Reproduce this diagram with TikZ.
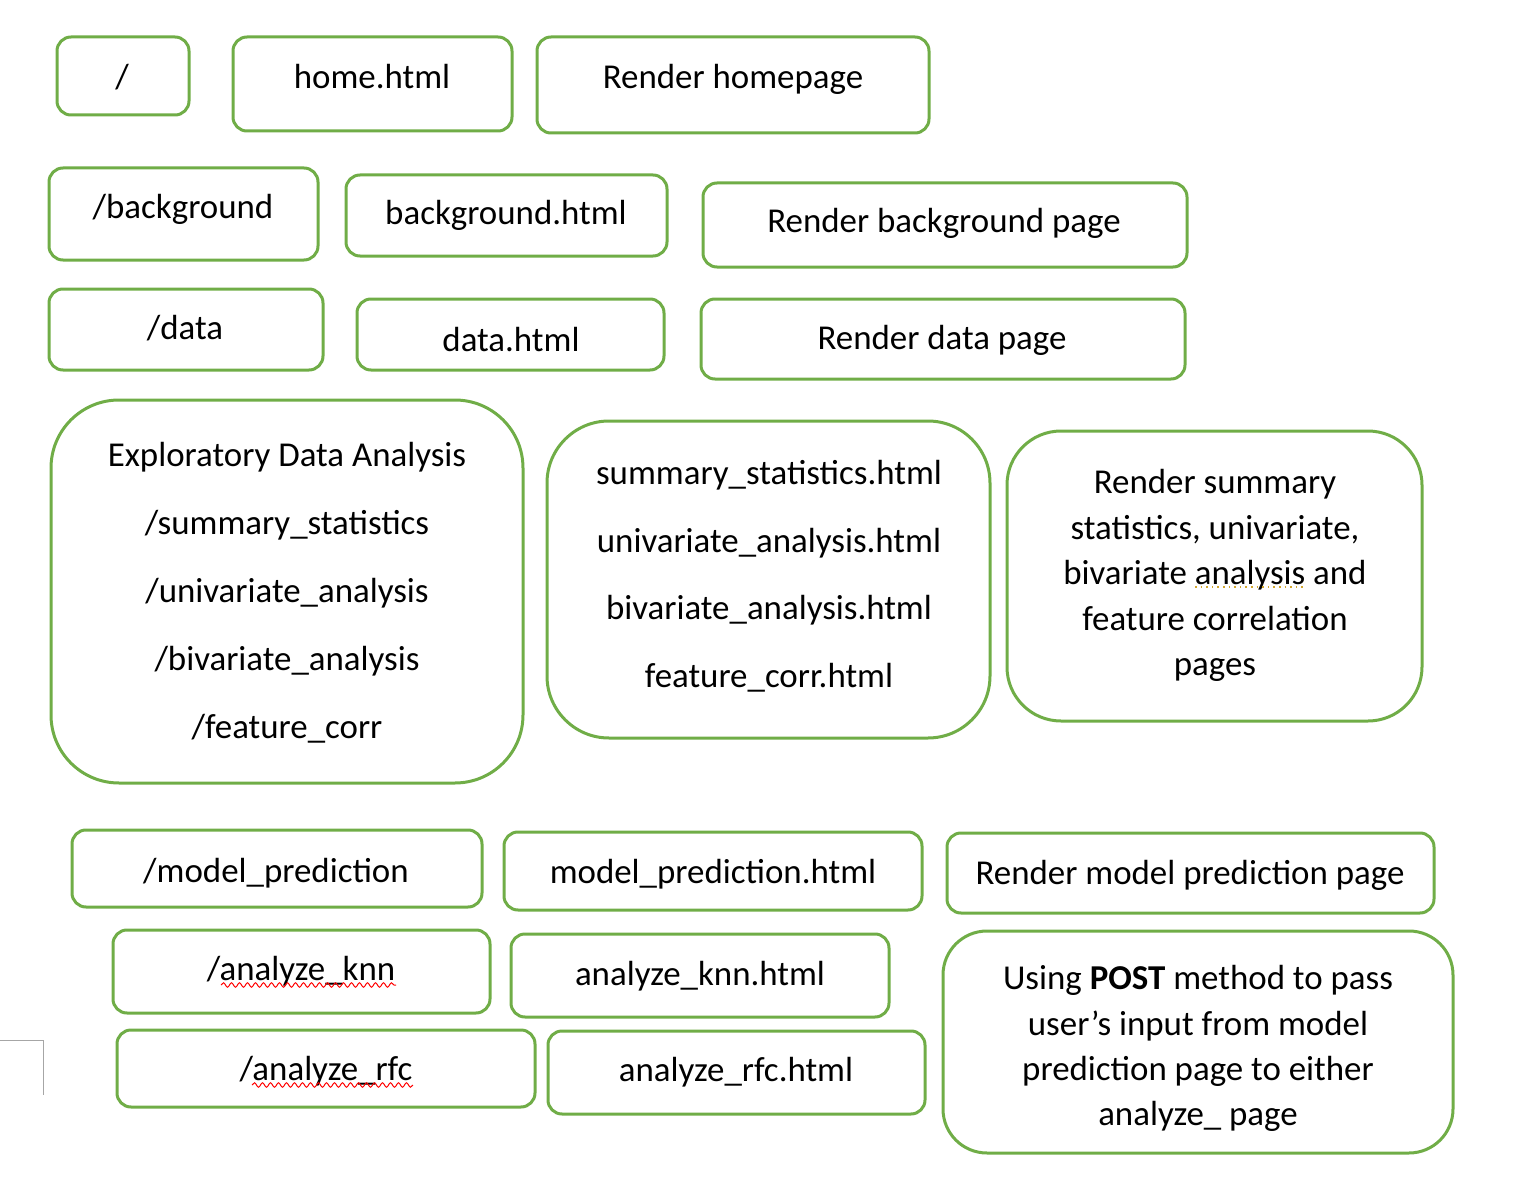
\documentclass[tikz,border=0pt]{standalone}
\usepackage{fontspec}
\setmainfont{Carlito}
\usetikzlibrary{decorations.pathmorphing}

\definecolor{boxgreen}{HTML}{70AD47}
\definecolor{markgray}{HTML}{A6A6A6}

\tikzset{
  box/.style={draw=boxgreen, line width=1.5pt, rounded corners=7pt},
  lbl/.style={anchor=base, inner sep=0pt, font=\fontsize{17.45}{21}\selectfont},
  squiggle/.style={draw=red, line width=0.5pt, decorate,
    decoration={snake, amplitude=1.1pt, segment length=4pt}},
  dotline/.style={draw=brown!70!yellow, line width=0.8pt, dotted}
}

\begin{document}
\begin{tikzpicture}[x=0.5pt, y=-0.5pt]
            \useasboundingbox (0,0) rectangle (1517,1177);

            % page corner mark
            \draw[markgray, line width=0.5pt] (0,1040) -- (43,1040) -- (43,1095);

            % route / template / action, first three rows
            \draw[box] (57,37) rectangle (189,115);
            \draw[box] (233,37) rectangle (512,131);
            \draw[box] (537,37) rectangle (929,133);

            \draw[box] (49,168) rectangle (318,260);
            \draw[box] (346,175) rectangle (667,256);
            \draw[box] (703,183) rectangle (1187,267);

            \draw[box] (49,289) rectangle (323,370);
            \draw[box] (357,299) rectangle (664,370);
            \draw[box] (701,299) rectangle (1185,379);

            \node[lbl] (root) at (122,89) {/};
            \node[lbl] (home) at (372,89) {home.html};
            \node[lbl] (homeact) at (733,89) {Render homepage};

            \node[lbl] (bg) at (183,219) {/background};
            \node[lbl] (bghtml) at (506,225) {background.html};
            \node[lbl] (bgact) at (944,233) {Render background page};

            \node[lbl] (data) at (185,339) {/data};
            \node[lbl] (datahtml) at (511,351) {data.html};
            \node[lbl] (dataact) at (942,350) {Render data page};

            % exploratory data analysis
            \draw[box, rounded corners=34pt] (51,400) rectangle (523,783);
            \draw[box, rounded corners=31pt] (547,421) rectangle (990,738);
            \draw[box, rounded corners=27pt] (1007,431) rectangle (1422,721);

            \node[lbl] (eda1) at (287,466) {Exploratory Data Analysis};
            \node[lbl] (eda2) at (287,534) {/summary\_statistics};
            \node[lbl] (eda3) at (287,602) {/univariate\_analysis};
            \node[lbl] (eda4) at (287,670) {/bivariate\_analysis};
            \node[lbl] (eda5) at (287,738) {/feature\_corr};

            \node[lbl] (tmpl1) at (769,484) {summary\_statistics.html};
            \node[lbl] (tmpl2) at (769,552) {univariate\_analysis.html};
            \node[lbl] (tmpl3) at (769,619) {bivariate\_analysis.html};
            \node[lbl] (tmpl4) at (769,687) {feature\_corr.html};

            \node[lbl] (rnd1) at (1215,493) {Render summary};
            \node[lbl] (rnd2) at (1215,539) {statistics, univariate,};
            \node[lbl] (rnd3) at (1215,584) {bivariate analysis and};
            \node[lbl] (rnd4) at (1215,630) {feature correlation};
            \node[lbl] (rnd5) at (1215,675) {pages};
            \draw[dotline] (1195,587) -- (1304,587);

            % model prediction
            \draw[box] (72,830) rectangle (482,907);
            \draw[box] (504,832) rectangle (922,910);
            \draw[box] (947,833) rectangle (1434,913);

            \draw[box] (113,930) rectangle (490,1013);
            \draw[box] (511,934) rectangle (889,1017);
            \draw[box, rounded corners=22pt] (943,931) rectangle (1453,1153);

            \draw[box] (117,1030) rectangle (535,1107);
            \draw[box] (548,1031) rectangle (925,1114);

            \node[lbl] (model) at (276,882) {/model\_prediction};
            \node[lbl] (modelhtml) at (713,883) {model\_prediction.html};
            \node[lbl] (modelact) at (1190,884) {Render model prediction page};

            \node[lbl] (knn) at (301,980) {/analyze\_knn};
            \node[lbl] (knnhtml) at (700,985) {analyze\_knn.html};
            \draw[squiggle] (221,985) -- (396,985);

            \node[lbl] (rfc) at (326,1080) {/analyze\_rfc};
            \node[lbl] (rfchtml) at (736,1081) {analyze\_rfc.html};
            \draw[squiggle] (252,1085) -- (413,1085);

            \node[lbl] (post1) at (1198,989) {Using \textbf{POST} method to pass};
            \node[lbl] (post2) at (1198,1035) {user’s input from model};
            \node[lbl] (post3) at (1198,1080) {prediction page to either};
            \node[lbl] (post4) at (1198,1125) {analyze\_ page};
\end{tikzpicture}
\end{document}
